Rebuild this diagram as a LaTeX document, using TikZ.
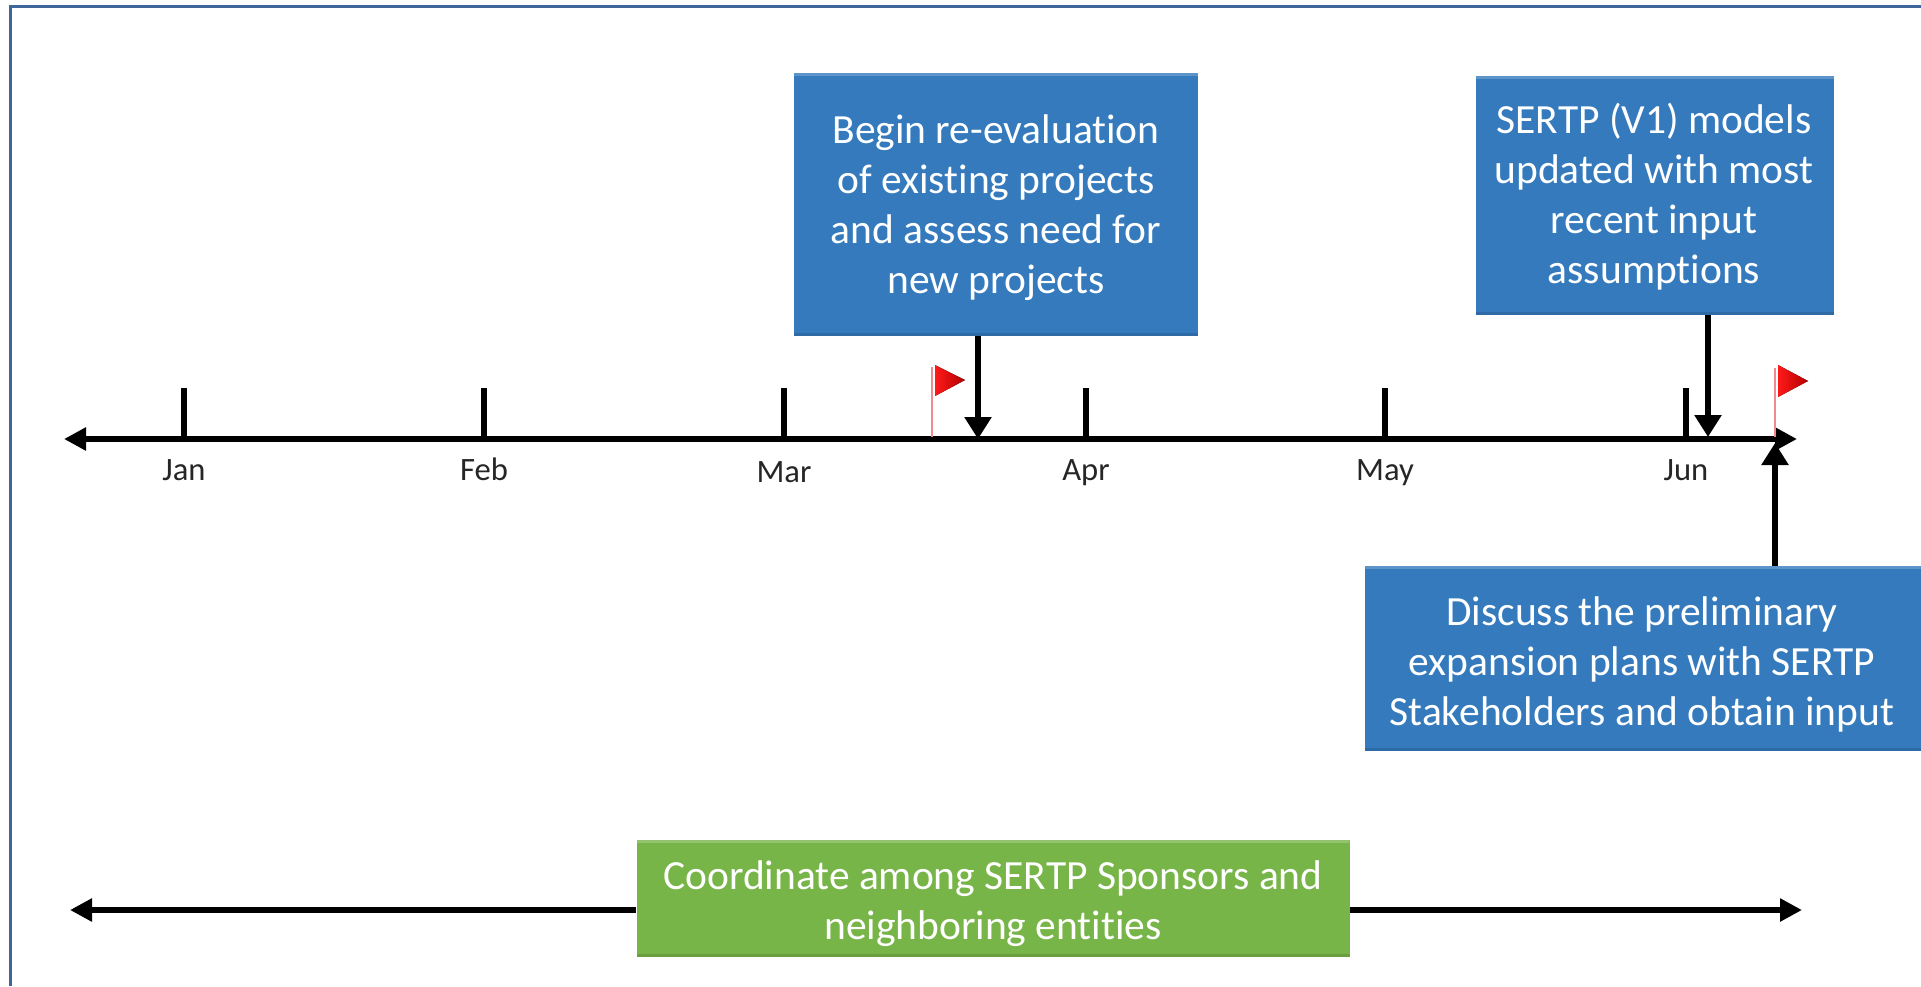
\documentclass[tikz,border=0pt]{standalone}
\usepackage{fontspec}
\setmainfont[Ligatures=NoCommon]{Carlito}
\usetikzlibrary{arrows.meta}
\definecolor{framecol}{HTML}{3F659A}
\definecolor{boxblue}{HTML}{347ABD}
\definecolor{boxgreen}{HTML}{78B549}
\definecolor{polered}{HTML}{F08A8E}
\tikzset{
  card/.style={inner sep=0pt,text=white,align=center,font=\fontsize{20.75pt}{25pt}\selectfont},
  bluecard/.style={card,fill=boxblue,path picture={
    \fill[boxblue!80!white] (path picture bounding box.north west) rectangle ([yshift=-1.5pt]path picture bounding box.north east);
    \fill[boxblue!88!black] (path picture bounding box.south west) rectangle ([yshift=1.5pt]path picture bounding box.south east);}},
  greencard/.style={card,fill=boxgreen,path picture={
    \fill[boxgreen!80!white] (path picture bounding box.north west) rectangle ([yshift=-1.5pt]path picture bounding box.north east);
    \fill[boxgreen!88!black] (path picture bounding box.south west) rectangle ([yshift=1.5pt]path picture bounding box.south east);}},
  month/.style={inner sep=0pt,anchor=base,text=black!85,font=\fontsize{16.3pt}{18pt}\selectfont},
  tl/.style={line width=3pt,black},
  arr/.style={line width=3pt,black,-{Triangle[length=11pt,width=13pt]}},
  dbl/.style={line width=3pt,black,{Triangle[length=11pt,width=11pt]}-{Triangle[length=11pt,width=11pt]}},
  pole/.style={line width=1.3pt,polered},
  flagtri/.style={left color=red!90!white,right color=red!70!black,draw=none},
}
\begin{document}
\begin{tikzpicture}[x=0.5pt,y=-0.5pt]
\useasboundingbox (0,0) rectangle (1921,986);
\fill[white] (0,0) rectangle (1921,986);
\draw[framecol,line width=1.5pt] (10,986) -- (10,6) -- (1921,6);

% boxes
\node[bluecard,minimum width=202pt,minimum height=131.5pt] (b1) at (996,204.5) {};
\node[card] (t1) at (996,208) {Begin re-evaluation\\of existing projects\\and assess need for\\new projects};
\node[bluecard,minimum width=179pt,minimum height=119.5pt] (b2) at (1655,195.5) {};
\node[card] (t2) at (1654,196.5) {SERTP (V1) models\\updated with most\\recent input\\assumptions};
\node[bluecard,minimum width=278pt,minimum height=92.5pt] (b3) at (1643,658.5) {};
\node[card] (t3) at (1642,664) {Discuss the preliminary\\expansion plans with SERTP\\Stakeholders and obtain input};
\node[greencard,minimum width=356.5pt,minimum height=58.5pt] (g) at (993,898.5) {};
\node[card] (t4) at (993,904) {Coordinate among SERTP Sponsors and\\neighboring entities};

% axis
\coordinate (axL) at (64,439);
\coordinate (axR) at (1797,439);
\draw[dbl] (axL) -- (axR);

% ticks and months
\foreach \nm/\tx/\ly in {Jan/184/480.5,Feb/484/480.5,Mar/784/482,Apr/1086/480.5,May/1385/480.5,Jun/1686/480.5}{
  \coordinate (top\nm) at (\tx,388);
  \coordinate (base\nm) at (\tx,439);
  \draw[tl] (top\nm) -- (base\nm);
  \node[month] (lab\nm) at (\tx,\ly) {\nm};
}

% flags
\coordinate (f1a) at (932,367); \coordinate (f1b) at (932,437);
\draw[pole] (f1a) -- (f1b);
\fill[flagtri] (935,365) -- (965,380) -- (935,396) -- cycle;
\coordinate (f2a) at (1775,368); \coordinate (f2b) at (1775,437);
\draw[pole] (f2a) -- (f2b);
\fill[flagtri] (1778,365) -- (1808,381) -- (1778,397) -- cycle;

% connectors
\coordinate (e1) at (978,439);
\coordinate (e2) at (1708,437);
\coordinate (e3) at (1775,443);
\draw[arr] (e1 |- b1.south) -- (e1);
\draw[arr] (e2 |- b2.south) -- (e2);
\draw[arr] (e3 |- b3.north) -- (e3);

% coordination arrows
\coordinate (gL) at (70,910);
\coordinate (gR) at (1802,910);
\draw[line width=3pt,-{Triangle[length=11pt,width=11pt]}] (g.west |- gL) -- (gL);
\draw[line width=3pt,-{Triangle[length=11pt,width=11pt]}] (g.east |- gR) -- (gR);
\end{tikzpicture}
\end{document}
